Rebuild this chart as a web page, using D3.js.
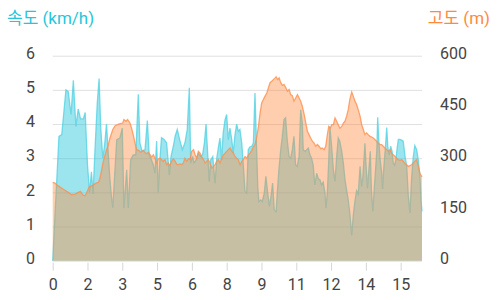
<!DOCTYPE html>
<html><head><meta charset="utf-8">
<script src="https://cdn.jsdelivr.net/npm/d3@7"></script>
<style>html,body{margin:0;padding:0;background:#fff;} svg{display:block;font-family:Roboto,"Noto Sans CJK KR",sans-serif;}</style>
</head><body><svg id="c" width="500" height="300"></svg>
<script>
const speedDist = [
0,0.27,0.39,0.46,0.57,0.67,0.79,0.89,1.00,1.10,
1.20,1.32,1.40,1.50,1.59,1.67,1.74,1.82,1.92,2.00,
2.07,2.16,2.24,2.32,2.39,2.46,2.53,2.59,2.67,2.76,
2.90,3.00,3.07,3.19,3.26,3.36,3.47,3.58,3.69,3.76,
3.86,3.98,4.08,4.16,4.26,4.34,4.41,4.48,4.55,4.62,
4.69,4.80,4.91,4.98,5.03,5.10,5.20,5.28,5.37,5.49,
5.59,5.70,5.80,5.89,5.95,6.03,6.09,6.18,6.28,6.38,
6.46,6.54,6.61,6.68,6.75,6.81,6.90,7.00,7.07,7.15,
7.21,7.28,7.35,7.43,7.50,7.57,7.64,7.72,7.78,7.86,
7.93,8.00,8.07,8.15,8.22,8.29,8.36,8.43,8.50,8.58,
8.65,8.72,8.79,8.84,8.89,8.97,9.03,9.12,9.19,9.27,
9.34,9.41,9.48,9.55,9.63,9.68,9.75,9.83,9.90,9.97,
10.04,10.11,10.19,10.26,10.33,10.40,10.47,10.54,10.62,10.69,
10.76,10.80,10.88,10.95,11.02,11.09,11.16,11.23,11.30,11.38,
11.45,11.52,11.59,11.66,11.74,11.78,11.84,11.90,11.95,12.03,
12.10,12.17,12.24,12.31,12.38,12.46,12.53,12.60,12.67,12.74,
12.81,12.89,12.96,13.03,13.10,13.17,13.25,13.32,13.37,13.43,
13.46,13.50,13.57,13.63,13.69,13.74,13.80,13.89,13.97,14.01,
14.06,14.11,14.18,14.22,14.28,14.34,14.40,14.45,14.51,14.57,
14.63,14.68,14.74,14.80,14.85,14.90,14.97,15.04,15.11,15.19,
15.26,15.33,15.40,15.47,15.54,15.61,15.69,15.76,15.83,15.88,15.92];
const speedKmh = [
0,3.64,3.69,4.2,5.0,4.95,4.28,5.28,3.93,4.44,
4.15,4.15,4.34,2.8,2.0,2.6,1.95,3.2,4.6,5.33,
3.9,3.0,3.4,4.0,3.2,2.45,1.9,1.55,2.5,3.54,
3.6,3.88,1.54,2.66,1.54,2.95,3.1,3.1,4.87,3.44,
3.2,3.25,4.1,3.1,2.95,2.8,2.56,3.5,2.0,2.95,
3.6,3.55,3.45,2.9,2.5,3.05,3.35,3.65,3.84,3.5,
3.25,3.45,3.84,5.06,2.86,3.05,2.86,2.95,3.15,3.05,
3.1,3.45,4.0,3.15,2.32,2.95,3.05,2.27,2.99,3.35,
3.59,2.95,3.74,4.13,4.28,3.54,3.88,3.54,3.15,3.69,
4.0,3.79,3.84,3.44,2.76,2.03,1.98,3.25,3.33,3.35,
3.44,4.91,3.3,2.17,1.73,1.78,1.73,1.98,2.47,1.98,
1.59,1.88,2.27,1.49,1.44,1.98,2.66,3.25,3.64,4.13,
4.18,3.54,3.05,3.0,3.25,3.64,2.81,2.76,3.05,4.42,
4.03,3.25,3.2,3.25,3.3,3.1,3.0,2.8,2.22,2.56,
2.4,2.37,2.22,2.3,1.98,1.54,2.0,2.95,3.93,3.3,
2.66,2.32,3.05,3.59,3.49,3.2,2.86,2.37,2.07,1.78,
1.39,0.75,1.35,1.75,2.05,1.95,2.76,2.17,2.45,3.1,
3.44,2.9,2.12,2.66,3.2,2.07,1.45,2.4,3.2,4.2,
3.5,3.0,2.6,2.1,2.8,3.3,3.9,3.3,3.1,3.35,
3.2,2.85,2.8,2.98,3.3,3.55,3.55,3.53,3.5,3.05,
2.78,1.9,1.4,2.4,3.02,3.37,3.25,2.95,2.49,1.76,1.44];
const altDist = [
0,0.10,0.24,0.46,0.67,0.82,0.96,1.10,1.20,1.29,
1.39,1.46,1.58,1.68,1.75,1.87,1.97,2.04,2.11,2.18,
2.28,2.40,2.47,2.59,2.69,2.79,2.90,3.02,3.07,3.16,
3.23,3.33,3.40,3.47,3.55,3.62,3.71,3.79,3.91,4.02,
4.12,4.20,4.27,4.34,4.41,4.48,4.55,4.62,4.69,4.76,
4.84,4.91,4.98,5.05,5.12,5.20,5.27,5.35,5.42,5.49,
5.56,5.63,5.70,5.78,5.85,5.92,5.99,6.07,6.14,6.21,
6.28,6.35,6.42,6.50,6.57,6.64,6.71,6.78,6.86,6.93,
7.00,7.07,7.14,7.21,7.29,7.36,7.43,7.50,7.57,7.65,
7.72,7.79,7.86,7.93,8.00,8.08,8.15,8.22,8.29,8.36,
8.44,8.51,8.58,8.65,8.72,8.80,8.87,8.94,9.01,9.08,
9.15,9.23,9.30,9.37,9.44,9.51,9.59,9.63,9.70,9.76,
9.83,9.90,9.97,10.05,10.12,10.19,10.26,10.33,10.40,10.48,
10.55,10.62,10.69,10.76,10.84,10.91,10.98,11.05,11.12,11.20,
11.27,11.34,11.41,11.48,11.55,11.62,11.70,11.77,11.84,11.90,
11.97,12.03,12.10,12.17,12.24,12.31,12.38,12.46,12.53,12.60,
12.67,12.74,12.81,12.89,12.96,13.03,13.10,13.17,13.25,13.32,
13.39,13.46,13.53,13.60,13.68,13.75,13.82,13.90,13.97,14.04,
14.11,14.18,14.25,14.32,14.40,14.47,14.54,14.61,14.68,14.76,
14.83,14.90,14.97,15.04,15.11,15.19,15.26,15.33,15.40,15.47,
15.54,15.61,15.69,15.76,15.83,15.92];
const altM = [
229,227,219,209,200,193,195,200,203,193,
190,198,217,219,222,227,229,242,266,291,
315,340,359,384,395,398,401,403,413,408,
413,403,388,369,344,325,323,317,323,313,
317,310,303,310,300,286,298,300,296,291,
296,281,286,278,291,298,292,282,281,283,
281,286,300,291,298,296,320,325,310,300,
320,315,305,296,286,291,296,286,271,276,
281,291,296,286,300,310,315,320,325,330,
320,315,305,300,296,281,291,296,305,300,
310,315,323,333,340,364,393,432,462,472,
481,491,506,521,525,530,535,538,530,535,
521,513,516,506,496,501,486,483,467,477,
486,477,467,452,428,403,379,369,359,349,
344,335,340,335,328,330,325,335,368,393,
388,398,398,418,408,398,388,393,403,408,
423,442,472,494,481,467,457,442,423,398,
384,369,374,369,364,362,359,354,349,344,
340,340,335,330,325,320,325,315,310,305,
300,296,294,296,291,284,281,276,278,281,
286,291,296,276,256,245];
const xTickValues = [0,1.5,3,4.5,6,7.5,9,10.5,12,13.5,15];
const xTickLabels = ["0","2","3","5","6","8","9","11","12","14","15"];
const speedTicks = [0,1,2,3,4,5,6];
const altTicks = [0,150,300,450,600];
const speedTitle = "속도 (km/h)";
const altTitle = "고도 (m)";

const svg = d3.select("#c");
const L = 52.7, R = 422, B = 260.7, T = 55.7;
const x = d3.scaleLinear().domain([0, 15.92]).range([L, R]);
const yS = d3.scaleLinear().domain([0, 6]).range([B, T]);
const yA = d3.scaleLinear().domain([0, 600]).range([B, T]);

const speed = speedDist.map((d, i) => ({d, v: speedKmh[i]}));
const alt = altDist.map((d, i) => ({d, v: altM[i]}));

// grid
svg.append("g").attr("transform", `translate(${L},0)`)
  .call(d3.axisLeft(yS).tickValues(speedTicks).tickSize(-(R - L)).tickFormat(""))
  .call(g => g.select(".domain").remove())
  .call(g => g.selectAll("line").attr("stroke", "#e0e0e0").attr("stroke-width", 1));

const teal = "#26c6da", orange = "#ff8a3d";
const aS = d3.area().x(p => x(p.d)).y0(yS(0)).y1(p => yS(p.v));
const lS = d3.line().x(p => x(p.d)).y(p => yS(p.v));
const aA = d3.area().x(p => x(p.d)).y0(yA(0)).y1(p => yA(p.v));
const lA = d3.line().x(p => x(p.d)).y(p => yA(p.v));

svg.append("path").datum(speed).attr("d", aS).attr("fill", teal).attr("fill-opacity", 0.45);
svg.append("path").datum(speed).attr("d", lS).attr("fill", "none").attr("stroke", "#4dd0e1").attr("stroke-opacity", 0.75).attr("stroke-width", 1.3);
svg.append("path").datum(alt).attr("d", aA).attr("fill", orange).attr("fill-opacity", 0.42);
svg.append("path").datum(alt).attr("d", lA).attr("fill", "none").attr("stroke", "#ff8f4f").attr("stroke-opacity", 0.8).attr("stroke-width", 1.3);

// left axis labels
svg.append("g").attr("transform", `translate(35,0)`)
  .call(d3.axisLeft(yS).tickValues(speedTicks).tickSize(0).tickPadding(0).tickFormat(d3.format("d")))
  .call(g => g.select(".domain").remove())
  .call(g => g.selectAll("text").attr("font-size", 16).attr("fill", "#444").attr("dy", "0.17em").attr("font-family", "Roboto"));

// right axis labels
svg.append("g").attr("transform", `translate(440,0)`)
  .call(d3.axisRight(yA).tickValues(altTicks).tickSize(0).tickPadding(0).tickFormat(d3.format("d")))
  .call(g => g.select(".domain").remove())
  .call(g => g.selectAll("text").attr("font-size", 16).attr("fill", "#444").attr("dy", "0.17em").attr("font-family", "Roboto"));

// bottom axis
svg.append("g").attr("transform", `translate(0,${B})`)
  .call(d3.axisBottom(x).tickValues(xTickValues).tickSize(10).tickPadding(8).tickFormat((d, i) => xTickLabels[i]))
  .call(g => g.select(".domain").remove())
  .call(g => g.selectAll("line").attr("y1", 2).attr("stroke", "#d6d6d6"))
  .call(g => g.selectAll("text").attr("font-size", 16).attr("fill", "#444").attr("font-family", "Roboto"));

// titles
svg.append("text").attr("x", 7).attr("y", 24).attr("font-size", 17).attr("fill", teal).text(speedTitle);
svg.append("text").attr("x", 490).attr("y", 24).attr("text-anchor", "end").attr("font-size", 17).attr("fill", orange).text(altTitle);
</script></body></html>
